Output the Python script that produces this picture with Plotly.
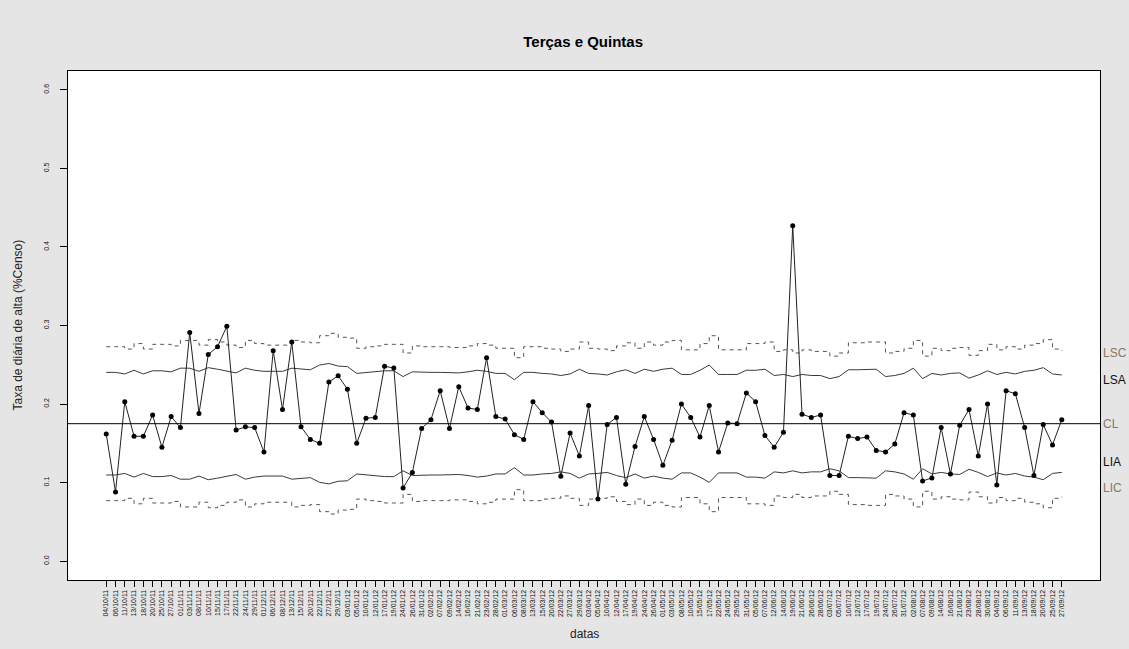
import plotly.graph_objects as go

# Datas de coleta (terças e quintas)
datas = [
    "04/10/11", "06/10/11", "11/10/11", "13/10/11", "18/10/11", "20/10/11", "25/10/11", "27/10/11",
    "01/11/11", "03/11/11", "08/11/11", "10/11/11", "15/11/11", "17/11/11", "22/11/11", "24/11/11", "29/11/11",
    "01/12/11", "06/12/11", "08/12/11", "13/12/11", "15/12/11", "20/12/11", "22/12/11", "27/12/11", "29/12/11",
    "03/01/12", "05/01/12", "10/01/12", "12/01/12", "17/01/12", "19/01/12", "24/01/12", "26/01/12", "31/01/12",
    "02/02/12", "07/02/12", "09/02/12", "14/02/12", "16/02/12", "21/02/12", "23/02/12", "28/02/12",
    "01/03/12", "06/03/12", "08/03/12", "13/03/12", "15/03/12", "20/03/12", "22/03/12", "27/03/12", "29/03/12",
    "03/04/12", "05/04/12", "10/04/12", "12/04/12", "17/04/12", "19/04/12", "24/04/12", "26/04/12",
    "01/05/12", "03/05/12", "08/05/12", "10/05/12", "15/05/12", "17/05/12", "22/05/12", "24/05/12", "29/05/12", "31/05/12",
    "05/06/12", "07/06/12", "12/06/12", "14/06/12", "19/06/12", "21/06/12", "26/06/12", "28/06/12",
    "03/07/12", "05/07/12", "10/07/12", "12/07/12", "17/07/12", "19/07/12", "24/07/12", "26/07/12", "31/07/12",
    "02/08/12", "07/08/12", "09/08/12", "14/08/12", "16/08/12", "21/08/12", "23/08/12", "28/08/12", "30/08/12",
    "04/09/12", "06/09/12", "11/09/12", "13/09/12", "18/09/12", "20/09/12", "25/09/12", "27/09/12",
]

# Taxa de diária de alta (% do censo)
taxa = [
    0.162, 0.088, 0.203, 0.159, 0.159, 0.186, 0.145, 0.184, 0.170, 0.291,
    0.188, 0.263, 0.273, 0.299, 0.167, 0.171, 0.170, 0.139, 0.268, 0.193,
    0.279, 0.171, 0.155, 0.150, 0.228, 0.236, 0.219, 0.150, 0.182, 0.183,
    0.248, 0.246, 0.093, 0.113, 0.169, 0.180, 0.217, 0.169, 0.222, 0.195,
    0.193, 0.259, 0.184, 0.181, 0.161, 0.155, 0.203, 0.189, 0.177, 0.108,
    0.163, 0.134, 0.198, 0.079, 0.174, 0.183, 0.098, 0.146, 0.184, 0.155,
    0.122, 0.154, 0.200, 0.183, 0.158, 0.198, 0.139, 0.176, 0.175, 0.214,
    0.203, 0.160, 0.145, 0.164, 0.427, 0.187, 0.183, 0.186, 0.109, 0.109,
    0.159, 0.156, 0.158, 0.141, 0.139, 0.149, 0.189, 0.186, 0.102, 0.106,
    0.170, 0.111, 0.173, 0.193, 0.134, 0.200, 0.097, 0.217, 0.213, 0.170,
    0.109, 0.174, 0.148, 0.180,
]

# Limite superior de controle (3 sigma) para cada dia
lsc = [
    0.273, 0.273, 0.270, 0.277, 0.270, 0.276, 0.276, 0.274, 0.281, 0.281,
    0.275, 0.282, 0.279, 0.275, 0.272, 0.281, 0.277, 0.275, 0.275, 0.275,
    0.281, 0.279, 0.278, 0.287, 0.290, 0.285, 0.284, 0.271, 0.273, 0.274,
    0.276, 0.276, 0.265, 0.274, 0.273, 0.273, 0.273, 0.272, 0.272, 0.274,
    0.277, 0.275, 0.271, 0.271, 0.259, 0.273, 0.273, 0.271, 0.270, 0.267,
    0.270, 0.279, 0.271, 0.270, 0.268, 0.274, 0.278, 0.271, 0.279, 0.275,
    0.279, 0.281, 0.269, 0.269, 0.277, 0.287, 0.269, 0.269, 0.269, 0.277,
    0.277, 0.279, 0.267, 0.269, 0.265, 0.269, 0.267, 0.267, 0.261, 0.265,
    0.278, 0.278, 0.279, 0.279, 0.265, 0.267, 0.271, 0.281, 0.261, 0.271,
    0.268, 0.271, 0.272, 0.262, 0.268, 0.276, 0.269, 0.273, 0.270, 0.275,
    0.277, 0.282, 0.270, 0.268,
]

# Linha central
cl = 0.175

# Limites derivados do desvio-padrão de cada dia
sigma = [(u - cl) / 3 for u in lsc]
lsa = [cl + 2 * s for s in sigma]
lia = [cl - 2 * s for s in sigma]
lic = [cl - 3 * s for s in sigma]

y_ticks = [0.0, 0.1, 0.2, 0.3, 0.4, 0.5, 0.6]
y_ticktext = ["0.0", "0.1", "0.2", "0.3", "0.4", "0.5", "0.6"]

# Rótulos à direita: texto, posição e cor
rot_texto = ["LSC", "LSA", "CL", "LIA", "LIC"]
rot_y = [0.2645, 0.2306, 0.175, 0.126, 0.093]
rot_cor = ["#857868", "#111111", "#857868", "#111111", "#857868"]

FONT = "Liberation Sans, Arial, sans-serif"

fig = go.Figure()

for serie in (lsc, lic):
    fig.add_trace(go.Scatter(
        x=datas, y=serie, mode="lines",
        line=dict(color="#555555", width=1, dash="4px,4px", shape="hv"),
        hoverinfo="skip", showlegend=False,
    ))

for serie in (lsa, lia):
    fig.add_trace(go.Scatter(
        x=datas, y=serie, mode="lines",
        line=dict(color="#3a3a3a", width=1),
        hoverinfo="skip", showlegend=False,
    ))

fig.add_trace(go.Scatter(
    x=datas, y=taxa, mode="lines+markers",
    line=dict(color="#222222", width=1),
    marker=dict(color="black", size=5),
    showlegend=False,
))

# Linha central cruzando toda a área do gráfico
fig.add_shape(type="line", xref="paper", x0=0, x1=1, yref="y", y0=cl, y1=cl,
              line=dict(color="black", width=1))

for txt, yv, cor in zip(rot_texto, rot_y, rot_cor):
    fig.add_annotation(x=1, xref="paper", y=yv, yref="y", text=txt,
                       showarrow=False, xanchor="left", yanchor="middle", xshift=1,
                       font=dict(family=FONT, size=12, color=cor))

fig.add_annotation(x=0.5, xref="paper", y=-0.106, yref="paper", text="datas",
                   showarrow=False, xanchor="center", yanchor="middle",
                   font=dict(family=FONT, size=12, color="#222222"))
fig.add_annotation(x=-0.0494, xref="paper", y=0.5, yref="paper",
                   text="Taxa de diária de alta (%Censo)", textangle=-90,
                   showarrow=False, xanchor="center", yanchor="middle",
                   font=dict(family=FONT, size=12, color="#222222"))

n = len(datas)
pad_x = 0.04 * (n - 1)

fig.update_layout(
    width=1129, height=649,
    paper_bgcolor="#e5e5e5", plot_bgcolor="white",
    margin=dict(l=68, r=29, t=71, b=69),
    title=dict(text="<b>Terças e Quintas</b>", x=0.5165, xanchor="center",
               y=1 - 42 / 649, yanchor="middle", yref="container",
               font=dict(family=FONT, size=15, color="black")),
    font=dict(family=FONT, color="black"),
    showlegend=False,
    xaxis=dict(
        type="category", range=[-pad_x, n - 1 + pad_x],
        tickmode="array", tickvals=datas, ticktext=datas,
        tickangle=-90, tickfont=dict(size=7, color="#111111"),
        ticks="outside", ticklen=6, tickcolor="black",
        showgrid=False, zeroline=False,
        showline=True, mirror=True, linecolor="black", linewidth=1,
    ),
    yaxis=dict(
        range=[-0.024, 0.624],
        tickmode="array", tickvals=y_ticks, ticktext=y_ticktext,
        tickangle=-90, tickfont=dict(size=7, color="#111111"),
        ticks="outside", ticklen=7, tickcolor="black", ticklabelstandoff=8,
        showgrid=False, zeroline=False,
        showline=True, mirror=True, linecolor="black", linewidth=1,
    ),
)

fig.write_html("out.html")
